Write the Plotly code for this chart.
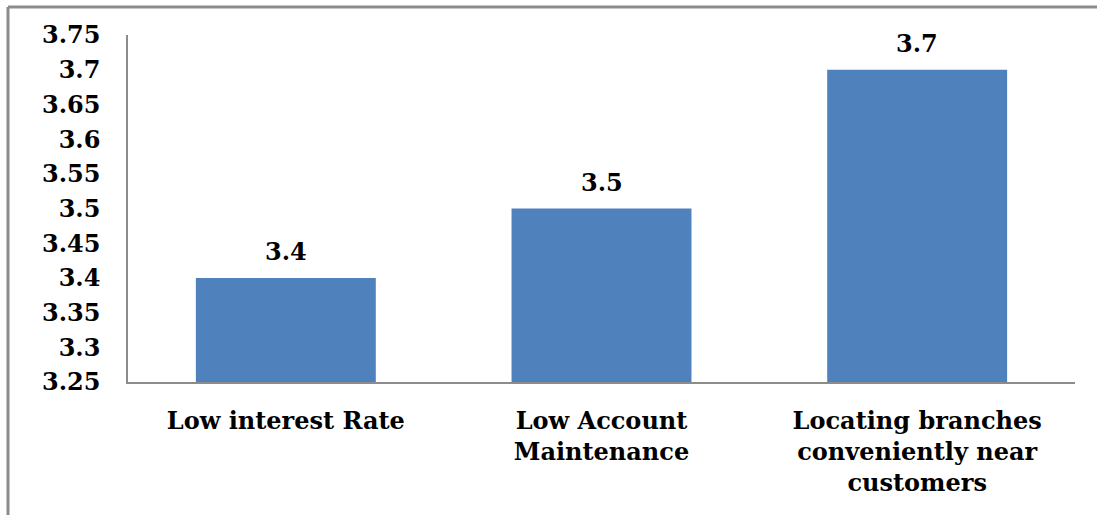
import plotly.graph_objects as go

# Survey factors and their mean scores
categories = [
    "Low interest Rate",
    "Low Account<br>Maintenance",
    "Locating branches<br>conveniently near<br>customers",
]
scores = [3.4, 3.5, 3.7]

# Value axis ticks
tick_values = [3.25, 3.3, 3.35, 3.4, 3.45, 3.5, 3.55, 3.6, 3.65, 3.7, 3.75]
tick_labels = ["3.25", "3.3", "3.35", "3.4", "3.45", "3.5", "3.55", "3.6", "3.65", "3.7", "3.75"]

W, H = 1097, 515
L, R, T, B = 128, 22, 35, 133
PW, PH = W - L - R, H - T - B

FONT = "DejaVu Serif"
SIZE = 24


def px_x(x):
    return (x - L) / PW


def px_y(y):
    return (H - B - y) / PH


fig = go.Figure()
fig.add_trace(go.Bar(
    x=categories,
    y=scores,
    marker=dict(color="#4F81BD", line=dict(width=0)),
    hoverinfo="skip",
))

for c, v in zip(categories, scores):
    fig.add_annotation(
        x=c, y=v, text=f"<b>{v:g}</b>", showarrow=False,
        yanchor="bottom", yshift=10,
        font=dict(family=FONT, size=SIZE, color="black"),
    )

# Outer chart frame (left and top edges)
frame = dict(color="#8C8C8C", width=3)
fig.add_shape(type="line", xref="paper", yref="paper",
              x0=px_x(8), x1=px_x(8), y0=px_y(7), y1=px_y(H), line=frame)
fig.add_shape(type="line", xref="paper", yref="paper",
              x0=px_x(8), x1=px_x(W), y0=px_y(7), y1=px_y(7), line=frame)

fig.update_layout(
    width=W, height=H,
    margin=dict(l=L, r=R, t=T, b=B, pad=0),
    paper_bgcolor="white", plot_bgcolor="white",
    bargap=0.43,
    showlegend=False,
    font=dict(family=FONT, size=SIZE, color="black", weight="bold"),
)
fig.update_xaxes(
    range=[-0.5, 2.5],
    showline=True, linecolor="#8C8C8C", linewidth=1.5,
    ticks="", showgrid=False, ticklabelstandoff=16,
    tickfont=dict(family=FONT, size=SIZE, color="black", weight="bold"),
)
fig.update_yaxes(
    range=[3.25, 3.75],
    tickvals=tick_values, ticktext=tick_labels,
    showline=True, linecolor="#8C8C8C", linewidth=1.5,
    ticks="", showgrid=False, zeroline=False, ticklabelstandoff=21,
    tickfont=dict(family=FONT, size=SIZE, color="black", weight="bold"),
)

fig.write_html("out.html")
